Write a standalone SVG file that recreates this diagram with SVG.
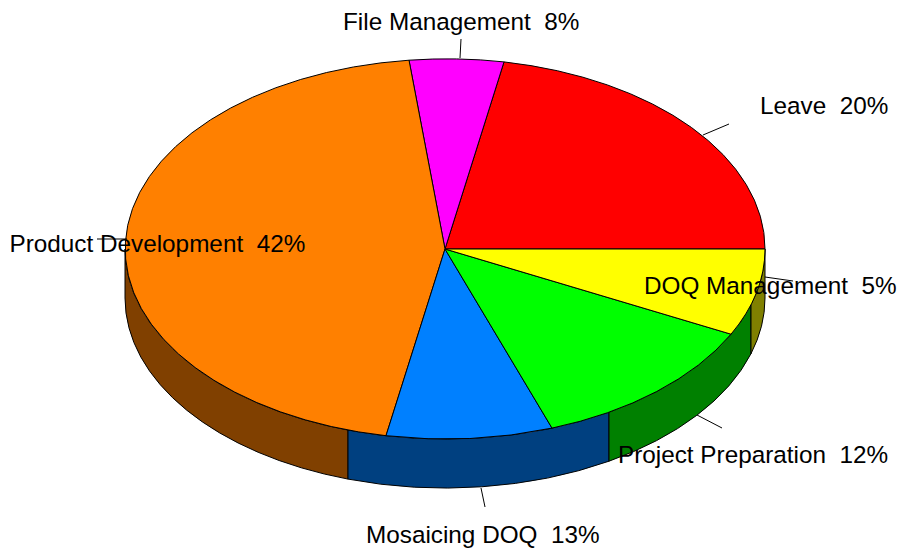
<svg xmlns="http://www.w3.org/2000/svg" width="903" height="550" viewBox="0 0 903 550">
<style>
.s{stroke:#000;stroke-width:1;stroke-linejoin:round}
.lbl{font-family:"Liberation Sans",Arial,sans-serif;font-size:24.3px;fill:#000;white-space:pre}
.ld{stroke:#000;stroke-width:1;fill:none}
</style>
<rect width="903" height="550" fill="#fff"/>
<g id="sides">
<path class="s" fill="#804000" d="M125,249 A320,190 0 0 0 348,430.1 L348,479.1 A320,190 0 0 1 125,298 Z"/>
<path class="s" fill="#004080" d="M348,430.1 A320,190 0 0 0 609,412.2 L609,461.2 A320,190 0 0 1 348,479.1 Z"/>
<path class="s" fill="#008000" d="M609,412.2 A320,190 0 0 0 751,304.7 L751,353.7 A320,190 0 0 1 609,461.2 Z"/>
<path class="s" fill="#808000" d="M751,304.7 A320,190 0 0 0 765,249 L765,298 A320,190 0 0 1 751,353.7 Z"/>
</g>
<g id="leave">
<path class="s" fill="#ff0000" d="M445,249 L765,249 A320,190 0 0 0 504,61.9 Z"/>
<text class="lbl" x="760" y="114" xml:space="preserve">Leave  20%</text>
</g>
<g id="file-management">
<path class="s" fill="#ff00ff" d="M445,249 L504,61.9 A320,190 0 0 0 409,60.2 Z"/>
<text class="lbl" x="343" y="30" xml:space="preserve">File Management  8%</text>
</g>
<g id="product-development">
<path class="s" fill="#ff8000" d="M445,249 L409,60.2 A320,190 0 0 0 386,435.7 Z"/>
</g>
<g id="mosaicing-doq">
<path class="s" fill="#0080ff" d="M445,249 L386,435.7 A320,190 0 0 0 552,428.1 Z"/>
<text class="lbl" x="366" y="543" xml:space="preserve">Mosaicing DOQ  13%</text>
</g>
<g id="project-preparation">
<path class="s" fill="#00ff00" d="M445,249 L552,428.1 A320,190 0 0 0 731,334.2 Z"/>
</g>
<g id="doq-management">
<path class="s" fill="#ffff00" d="M445,249 L731,334.2 A320,190 0 0 0 765,249 Z"/>
</g>
<g id="connectors">
<line class="ld" x1="460" y1="58" x2="461" y2="39"/>
<line class="ld" x1="703" y1="135" x2="729" y2="124"/>
<line class="ld" x1="765" y1="277" x2="793" y2="281"/>
<line class="ld" x1="97" y1="239" x2="127" y2="239"/>
<line class="ld" x1="481" y1="488" x2="485" y2="507"/>
<line class="ld" x1="697" y1="415" x2="722" y2="428"/>
</g>
<g id="labels-front">
<text class="lbl" x="9.5" y="252" xml:space="preserve">Product Development  42%</text>
<text class="lbl" x="644" y="294" xml:space="preserve">DOQ Management  5%</text>
<text class="lbl" x="618" y="463" xml:space="preserve">Project Preparation  12%</text>
</g>
</svg>
